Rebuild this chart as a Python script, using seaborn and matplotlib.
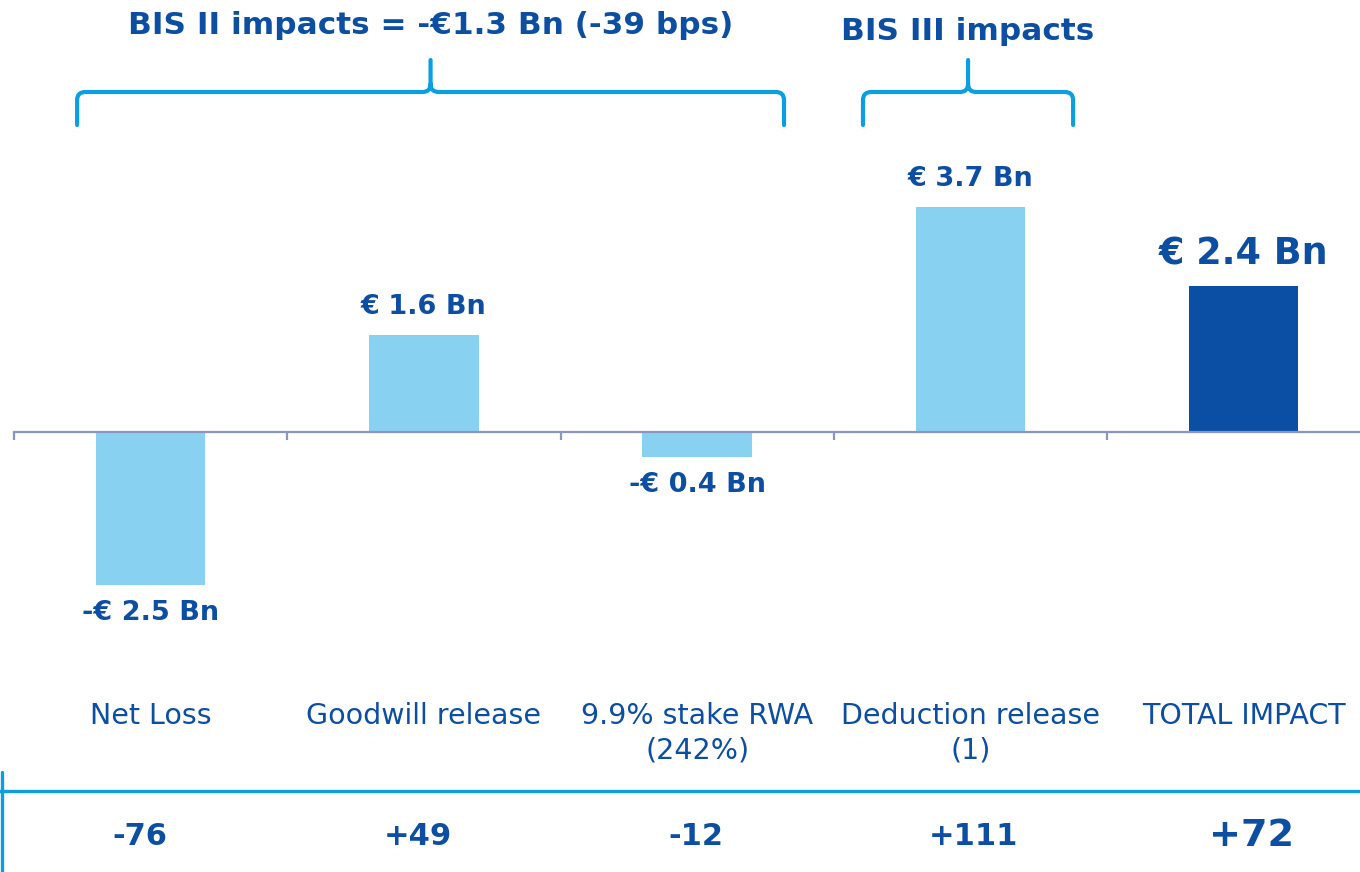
import matplotlib
matplotlib.use("Agg")
import matplotlib.pyplot as plt
import matplotlib.transforms as mtransforms
from matplotlib.path import Path
from matplotlib.patches import PathPatch
from matplotlib.lines import Line2D
import seaborn as sns
import pandas as pd

# ---- data ----
categories = ["Net Loss", "Goodwill release", "9.9% stake RWA\n(242%)",
              "Deduction release\n(1)", "TOTAL IMPACT"]
values_bn = [-2.5, 1.6, -0.4, 3.7, 2.4]
value_labels = ["-€ 2.5 Bn", "€ 1.6 Bn", "-€ 0.4 Bn", "€ 3.7 Bn", "€ 2.4 Bn"]
bps_labels = ["-76", "+49", "-12", "+111", "+72"]
group_titles = ["BIS II impacts = -€1.3 Bn (-39 bps)", "BIS III impacts"]
group_spans = [(0, 2), (3, 3)]

LIGHT = "#89D1F1"
DARK = "#0A4FA4"
TEXT = "#0B4EA2"
BRACE = "#0A9FE3"
AXIS = "#8A96C2"

sns.set_theme(style="white")
plt.rcParams['font.family'] = ['DejaVu Sans']

W, H = 1360, 872
fig = plt.figure(figsize=(W / 100, H / 100), dpi=100)
ax = fig.add_axes([14 / W, 0, (W - 14) / W, 1])

df = pd.DataFrame({"cat": categories, "val": values_bn})
palette = {c: (DARK if i == len(categories) - 1 else LIGHT) for i, c in enumerate(categories)}
sns.barplot(data=df, x="cat", y="val", hue="cat", palette=palette, order=categories,
            hue_order=categories, width=0.4, saturation=1, legend=False, ax=ax,
            edgecolor="none")

for s in ["top", "left", "right"]:
    ax.spines[s].set_visible(False)
ax.spines["bottom"].set_position(("data", 0))
ax.spines["bottom"].set_color(AXIS)
ax.spines["bottom"].set_linewidth(1.6)
ax.set_xticks([i - 0.5 for i in range(len(categories))])
ax.set_xticklabels([])
ax.tick_params(axis="x", direction="out", length=6, width=1.6, color=AXIS, bottom=True)
ax.set_yticks([])
ax.set_xlabel("")
ax.set_ylabel("")

px_per_bn = 61.0
zero_px = 432.5
ax.set_xlim(-0.5, -0.5 + (W - 14) / 273.25)
ax.set_ylim(-(H - zero_px) / px_per_bn, zero_px / px_per_bn)


def fy(px):
    return 1 - px / H


bt = mtransforms.blended_transform_factory(ax.transData, fig.transFigure)

# value labels
for i, (v, lab) in enumerate(zip(values_bn, value_labels)):
    big = i == len(values_bn) - 1
    size = 26.3 if big else 19.5
    off = (32 if big else 28) * 0.72
    ax.annotate(lab, (i, v), xytext=(0, off if v > 0 else -off), textcoords="offset points",
                ha="center", va="center", fontsize=size, fontweight="bold", color=TEXT)

# category labels
for i, c in enumerate(categories):
    for j, line in enumerate(c.split("\n")):
        ax.text(i, fy(716 + 34 * j), line, transform=bt, ha="center", va="center",
                fontsize=20.5, color=TEXT)

# bps row
for i, b in enumerate(bps_labels):
    big = i == len(bps_labels) - 1
    ax.text(-0.04 + 1.017 * i, fy(836), b, transform=bt, ha="center", va="center",
            fontsize=27.5 if big else 22, fontweight="bold", color=TEXT)

fig.add_artist(Line2D([0, 1], [fy(791), fy(791)], transform=fig.transFigure,
                      color=BRACE, lw=2.4))
fig.add_artist(Line2D([2 / W, 2 / W], [fy(772), 0], transform=fig.transFigure,
                      color=BRACE, lw=2.4))

# braces + titles
ext = [(-0.269, 0.318), (-0.393, 0.376)]
r = 0.03
for (a, b), (el, er), title, ty in zip(group_spans, ext, group_titles, [25, 32]):
    x0 = a + el
    x1 = b + er
    xm = (x0 + x1) / 2
    yb, yh, yt = fy(125), fy(92), fy(60)
    yc = fy(84)
    verts = [(x0, yb), (x0, fy(100)), (x0, yh), (x0 + r, yh), (xm - r, yh), (xm, yh), (xm, yc),
             (xm, yt), (xm, yc), (xm, yh), (xm + r, yh), (x1 - r, yh), (x1, yh), (x1, fy(100)),
             (x1, yb)]
    codes = [Path.MOVETO, Path.LINETO, Path.CURVE3, Path.CURVE3, Path.LINETO, Path.CURVE3,
             Path.CURVE3, Path.LINETO, Path.MOVETO, Path.CURVE3, Path.CURVE3, Path.LINETO,
             Path.CURVE3, Path.CURVE3, Path.LINETO]
    patch = PathPatch(Path(verts, codes), transform=bt, facecolor="none", edgecolor=BRACE,
                      lw=3, capstyle="round", joinstyle="round", clip_on=False)
    fig.add_artist(patch)
    ax.text(xm, fy(ty), title, transform=bt, ha="center", va="center", fontsize=22.4,
            fontweight="bold", color=TEXT)

fig.savefig("out.png", dpi=100)
